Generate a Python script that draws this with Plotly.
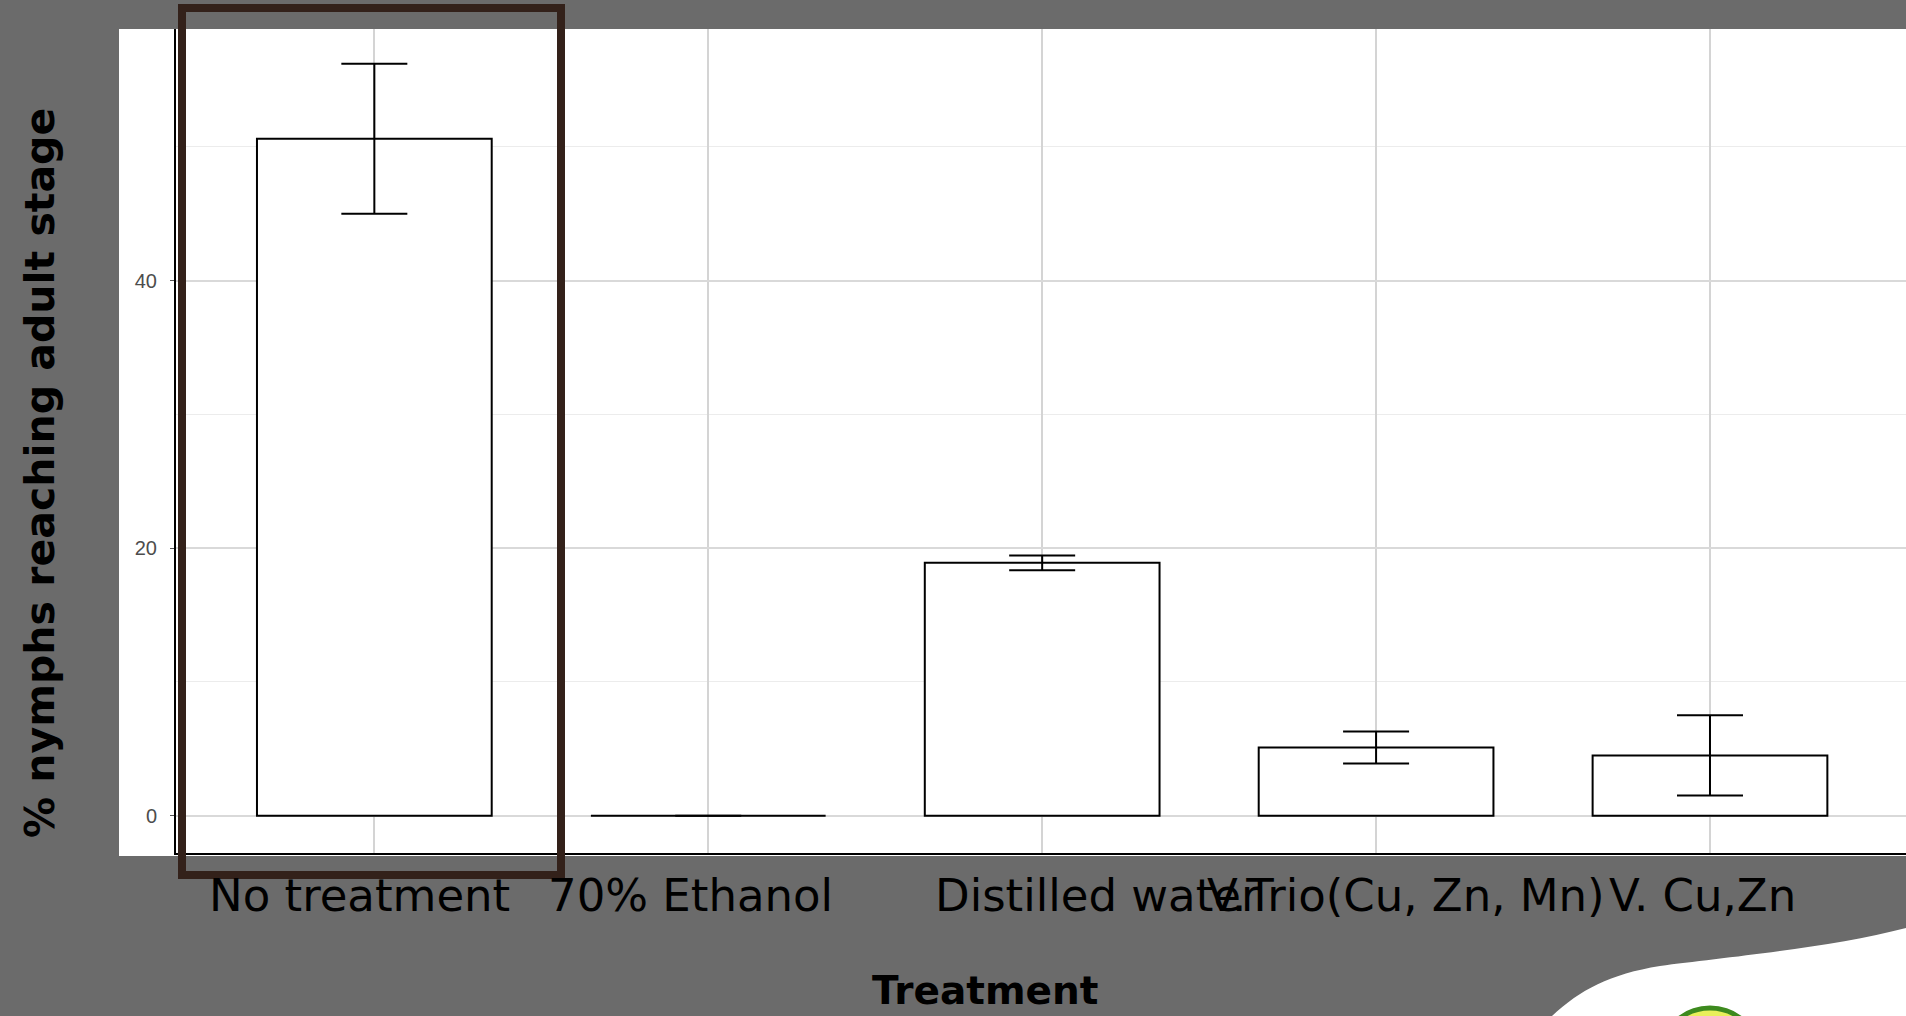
import plotly.graph_objects as go

# ---- data ----
treatments = ["No treatment", "70% Ethanol", "Distilled water", "V.Trio(Cu, Zn, Mn)", "V. Cu,Zn"]
pct_adult = [50.6, 0.0, 18.9, 5.1, 4.5]
err = [5.6, 0.0, 0.55, 1.2, 3.0]
y_ticks = [0, 20, 40]

# ---- style ----
W, H = 1906, 1016
L, R, T, B = 176, 0, 29, 163
label_shift = [-15, -18, 55, 30, -7]
SLIDE = "#6b6b6b"
FONT = "DejaVu Sans"

def px2paper_x(px):
    return (px - L) / (W - L - R)

def px2paper_y(py):
    return (H - B - py) / (H - T - B)

fig = go.Figure()
fig.add_trace(go.Bar(
    x=treatments, y=pct_adult, width=0.703,
    marker=dict(color="white", line=dict(color="black", width=2)),
    error_y=dict(type="data", array=err, visible=True, color="black", thickness=2, width=33),
    showlegend=False,
))

# category labels (slide text)
for i, (t, s) in enumerate(zip(treatments, label_shift)):
    fig.add_annotation(x=t, y=px2paper_y(895), xref="x", yref="paper", text=t,
                       showarrow=False, xshift=s, yanchor="middle", xanchor="center",
                       font=dict(family=FONT, size=45, color="black"))

# axis titles
fig.add_annotation(x=px2paper_x(985), y=px2paper_y(990), xref="paper", yref="paper",
                   text="<b>Treatment</b>", showarrow=False, yanchor="middle",
                   font=dict(family=FONT, size=39, color="black"))
fig.add_annotation(x=px2paper_x(40), y=px2paper_y(473), xref="paper", yref="paper",
                   text="<b>% nymphs reaching adult stage</b>", showarrow=False, textangle=-90,
                   xanchor="center", yanchor="middle",
                   font=dict(family=FONT, size=41, color="black"))

shapes = [
    # white chart image background
    dict(type="rect", xref="paper", yref="paper", layer="below",
         x0=px2paper_x(119), x1=px2paper_x(1906), y0=px2paper_y(856), y1=px2paper_y(29),
         fillcolor="white", line=dict(width=0)),
    # brown highlight box
    dict(type="rect", xref="paper", yref="paper", layer="above",
         x0=px2paper_x(182), x1=px2paper_x(561), y0=px2paper_y(875), y1=px2paper_y(8),
         fillcolor="rgba(0,0,0,0)", line=dict(color="#33211a", width=8)),
    # decorative white swoosh bottom right
    dict(type="path", xref="paper", yref="paper", layer="above",
         path="M {} {} C {} {}, {} {}, {} {} C {} {}, {} {}, {} {} L {} {} Z".format(
             px2paper_x(1906), px2paper_y(928),
             px2paper_x(1830), px2paper_y(948), px2paper_x(1720), px2paper_y(958),
             px2paper_x(1660), px2paper_y(966),
             px2paper_x(1610), px2paper_y(974), px2paper_x(1580), px2paper_y(990),
             px2paper_x(1552), px2paper_y(1016),
             px2paper_x(1906), px2paper_y(1016)),
         fillcolor="white", line=dict(width=0)),
    # logo ring
    dict(type="circle", xref="paper", yref="paper", layer="above",
         x0=px2paper_x(1660), x1=px2paper_x(1760), y0=px2paper_y(1108), y1=px2paper_y(1008),
         fillcolor="#e8ef5a", line=dict(color="#3d8a1e", width=5)),
]

fig.update_layout(
    width=W, height=H,
    margin=dict(l=L, r=R, t=T, b=B, pad=0),
    paper_bgcolor=SLIDE, plot_bgcolor="white",
    shapes=shapes,
    bargap=0.3,
    xaxis=dict(range=[-0.594, 4.587], showticklabels=False, showgrid=True,
               gridcolor="#d4d4d4", gridwidth=1.5, zeroline=False,
               showline=True, linecolor="black", linewidth=2, ticks=""),
    yaxis=dict(range=[-2.79, 58.8], tickvals=y_ticks, showgrid=True,
               gridcolor="#d9d9d9", gridwidth=1.5, zeroline=False,
               showline=True, linecolor="black", linewidth=2,
               ticks="outside", ticklen=4, tickcolor="#555555",
               ticklabelstandoff=9,
               tickfont=dict(family="Liberation Sans Narrow, Liberation Sans", size=20, color="#4d4d4d"),
               minor=dict(dtick=10, tick0=0, showgrid=True, gridcolor="#ececec", gridwidth=1, ticks="")),
)

fig.write_html("out.html", config={"displayModeBar": False},
               post_script="document.body.style.margin='0';")
